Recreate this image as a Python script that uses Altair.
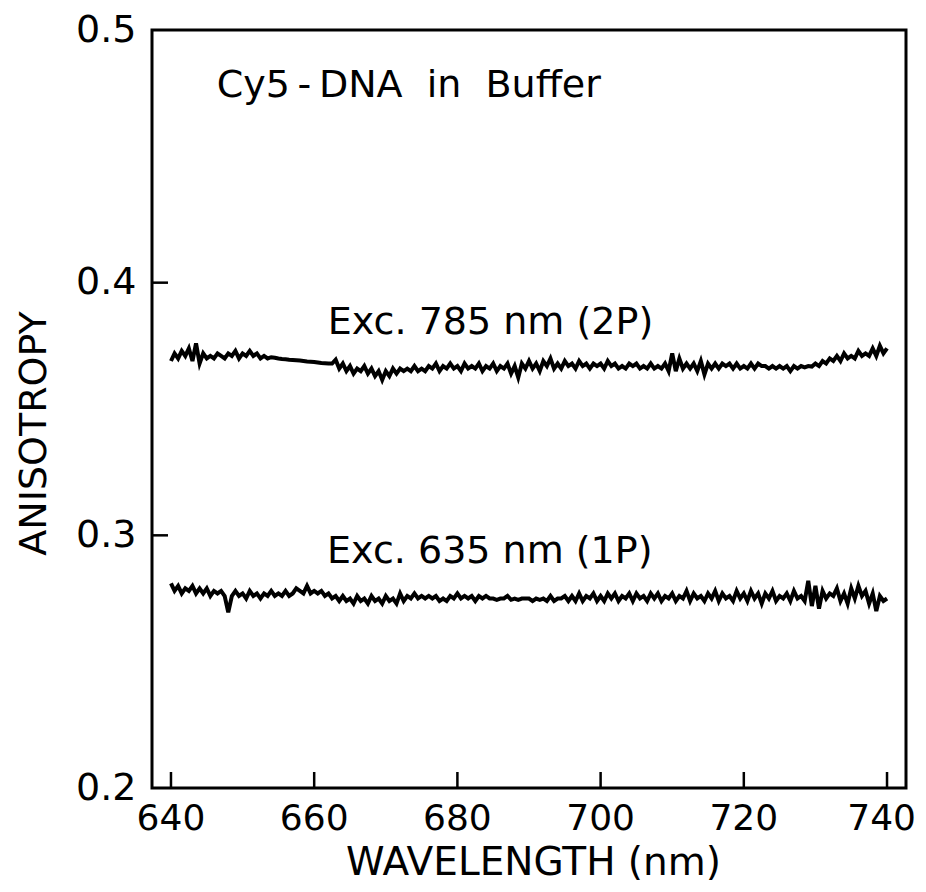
import altair as alt
import pandas as pd

# ---- data ----
START_NM = 640.0
STEP_NM = 0.5

aniso_2p = [
    0.369, 0.372, 0.370, 0.373, 0.371, 0.374, 0.369, 0.376, 0.368, 0.372,
    0.370, 0.371, 0.370, 0.372, 0.371, 0.370, 0.372, 0.371, 0.373, 0.370,
    0.372, 0.371, 0.373, 0.371, 0.372, 0.370, 0.371, 0.370, 0.3705, 0.3703,
    0.3700, 0.3698, 0.3697, 0.3695, 0.3694, 0.3693, 0.3692, 0.3690, 0.3688, 0.3687,
    0.3686, 0.3684, 0.3682, 0.3681, 0.3680, 0.3680, 0.3695, 0.366, 0.368, 0.365,
    0.367, 0.364, 0.366, 0.365, 0.367, 0.364, 0.366, 0.363, 0.365, 0.3615,
    0.365, 0.363, 0.366, 0.364, 0.366, 0.365, 0.366, 0.365, 0.367, 0.365,
    0.366, 0.365, 0.367, 0.366, 0.368, 0.365, 0.367, 0.366, 0.368, 0.366,
    0.367, 0.365, 0.368, 0.366, 0.367, 0.366, 0.368, 0.365, 0.367, 0.366,
    0.368, 0.365, 0.367, 0.366, 0.368, 0.364, 0.367, 0.3625, 0.368, 0.366,
    0.369, 0.366, 0.368, 0.365, 0.369, 0.367, 0.370, 0.366, 0.368, 0.366,
    0.369, 0.367, 0.368, 0.366, 0.369, 0.367, 0.368, 0.366, 0.368, 0.367,
    0.368, 0.366, 0.369, 0.367, 0.368, 0.366, 0.367, 0.366, 0.368, 0.367,
    0.368, 0.366, 0.367, 0.366, 0.368, 0.366, 0.367, 0.366, 0.368, 0.365,
    0.372, 0.365, 0.370, 0.366, 0.368, 0.366, 0.368, 0.365, 0.369, 0.3637,
    0.368, 0.366, 0.368, 0.366, 0.368, 0.367, 0.368, 0.366, 0.368, 0.366,
    0.367, 0.366, 0.368, 0.366, 0.368, 0.367, 0.367, 0.366, 0.367, 0.366,
    0.367, 0.366, 0.367, 0.365, 0.367, 0.366, 0.367, 0.3665, 0.367, 0.3668,
    0.368, 0.367, 0.369, 0.368, 0.370, 0.369, 0.371, 0.369, 0.372, 0.370,
    0.371, 0.370, 0.373, 0.371, 0.372, 0.371, 0.374, 0.371, 0.375, 0.372,
    0.374,
]

aniso_1p = [
    0.281, 0.278, 0.280, 0.277, 0.279, 0.278, 0.280, 0.277, 0.279, 0.277,
    0.279, 0.276, 0.278, 0.277, 0.278, 0.276, 0.2695, 0.276, 0.278, 0.276,
    0.277, 0.275, 0.278, 0.276, 0.277, 0.275, 0.277, 0.276, 0.278, 0.276,
    0.277, 0.276, 0.278, 0.276, 0.277, 0.279, 0.278, 0.277, 0.280, 0.277,
    0.278, 0.277, 0.278, 0.276, 0.277, 0.275, 0.276, 0.274, 0.276, 0.274,
    0.275, 0.273, 0.276, 0.274, 0.275, 0.273, 0.276, 0.274, 0.275, 0.273,
    0.276, 0.274, 0.275, 0.273, 0.277, 0.274, 0.276, 0.275, 0.277, 0.275,
    0.276, 0.275, 0.276, 0.275, 0.276, 0.274, 0.275, 0.274, 0.276, 0.275,
    0.277, 0.275, 0.276, 0.275, 0.276, 0.274, 0.276, 0.275, 0.276, 0.275,
    0.275, 0.2745, 0.275, 0.275, 0.276, 0.2745, 0.275, 0.2745, 0.275, 0.275,
    0.275, 0.274, 0.275, 0.2745, 0.275, 0.274, 0.276, 0.274, 0.275, 0.275,
    0.276, 0.274, 0.276, 0.274, 0.277, 0.274, 0.276, 0.275, 0.277, 0.274,
    0.276, 0.274, 0.277, 0.275, 0.277, 0.274, 0.276, 0.275, 0.277, 0.274,
    0.277, 0.275, 0.276, 0.274, 0.277, 0.275, 0.277, 0.274, 0.276, 0.275,
    0.277, 0.274, 0.276, 0.275, 0.278, 0.274, 0.277, 0.275, 0.276, 0.274,
    0.277, 0.275, 0.278, 0.274, 0.277, 0.275, 0.276, 0.274, 0.278, 0.275,
    0.277, 0.274, 0.278, 0.275, 0.277, 0.273, 0.277, 0.275, 0.278, 0.274,
    0.276, 0.275, 0.277, 0.274, 0.278, 0.275, 0.276, 0.274, 0.282, 0.272,
    0.280, 0.271, 0.278, 0.275, 0.277, 0.276, 0.279, 0.274, 0.277, 0.273,
    0.279, 0.275, 0.280, 0.276, 0.278, 0.273, 0.277, 0.270, 0.276, 0.274,
    0.275,
]

x_ticks = [640, 660, 680, 700, 720, 740]
y_ticks = [0.2, 0.3, 0.4, 0.5]
y_inner_ticks = [0.3, 0.4]

note_text = [
    "Cy5\u2009-\u2009DNA\u00a0\u00a0in\u00a0\u00a0Buffer",
    "Exc. 785 nm (2P)",
    "Exc. 635 nm (1P)",
]
note_x = [646.4, 661.9, 661.8]
note_y = [0.4736, 0.3796, 0.2892]

X_DOMAIN = [637.35, 742.65]
Y_DOMAIN = [0.2, 0.5]
FONT = "DejaVu Sans"

# ---- tables ----
rows = []
for i, v in enumerate(aniso_2p):
    rows.append({"wl": START_NM + STEP_NM * i, "r": v, "series": "2P"})
for i, v in enumerate(aniso_1p):
    rows.append({"wl": START_NM + STEP_NM * i, "r": v, "series": "1P"})
df = pd.DataFrame(rows)

xs = alt.Scale(domain=X_DOMAIN, nice=False, zero=False)
ys = alt.Scale(domain=Y_DOMAIN, nice=False, zero=False)

x_axis = alt.Axis(
    values=x_ticks, ticks=False, domain=False, grid=False, labels=False,
    title="WAVELENGTH (nm)", titleFont=FONT, titleFontSize=39,
    titleFontWeight="normal", titleColor="black", titleX=381, titleY=74,
    titleBaseline="middle",
)
y_axis = alt.Axis(
    values=y_ticks, format=".1f", ticks=False, domain=False, grid=False,
    labelFontSize=38, labelFont=FONT, labelColor="black", labelPadding=16,
    labelFlush=False, title="ANISOTROPY", titleFont=FONT, titleFontSize=38,
    titleFontWeight="normal", titleColor="black", titleX=-118, titleY=403,
    titleBaseline="middle", titleAngle=-90,
)

lines = alt.Chart(df).mark_line(color="black", strokeWidth=4, clip=True).encode(
    x=alt.X("wl:Q", scale=xs, axis=x_axis),
    y=alt.Y("r:Q", scale=ys, axis=y_axis),
    detail="series:N",
)

tick_df = pd.DataFrame({"wl": x_ticks, "r": [Y_DOMAIN[0]] * len(x_ticks),
                        "lab": [str(v) for v in x_ticks]})

xt = alt.Chart(tick_df).mark_tick(
    orient="vertical", size=16, thickness=2.5, color="black", opacity=1, yOffset=-8
).encode(x=alt.X("wl:Q", scale=xs), y=alt.Y("r:Q", scale=ys))

# x tick labels as text (last one right-aligned so it stays inside the page)
xl_mid = alt.Chart(tick_df.iloc[:-1]).mark_text(
    align="center", baseline="top", dy=14, font=FONT, fontSize=36, color="black"
).encode(x=alt.X("wl:Q", scale=xs), y=alt.Y("r:Q", scale=ys), text="lab:N")
xl_last = alt.Chart(tick_df.iloc[-1:]).mark_text(
    align="right", baseline="top", dy=14, dx=29, font=FONT, fontSize=36, color="black"
).encode(x=alt.X("wl:Q", scale=xs), y=alt.Y("r:Q", scale=ys), text="lab:N")

yt = alt.Chart(pd.DataFrame({"wl": [X_DOMAIN[0]] * len(y_inner_ticks), "r": y_inner_ticks})).mark_tick(
    orient="horizontal", size=16, thickness=2.5, color="black", opacity=1, xOffset=8
).encode(x=alt.X("wl:Q", scale=xs), y=alt.Y("r:Q", scale=ys))

notes = alt.Chart(pd.DataFrame({"t": note_text, "wl": note_x, "r": note_y})).mark_text(
    align="left", baseline="alphabetic", font=FONT, fontSize=38, color="black"
).encode(x=alt.X("wl:Q", scale=xs), y=alt.Y("r:Q", scale=ys), text="t:N")

chart = alt.layer(lines, xt, xl_mid, xl_last, yt, notes).properties(
    width=754, height=758,
    autosize=alt.AutoSizeParams(type="none"),
    padding={"left": 144, "top": 22, "right": 12, "bottom": 96},
    background="white",
).configure_view(stroke="black", strokeWidth=3, strokeOpacity=1)

chart.save("out.html", embed_options={"renderer": "svg", "actions": False})
